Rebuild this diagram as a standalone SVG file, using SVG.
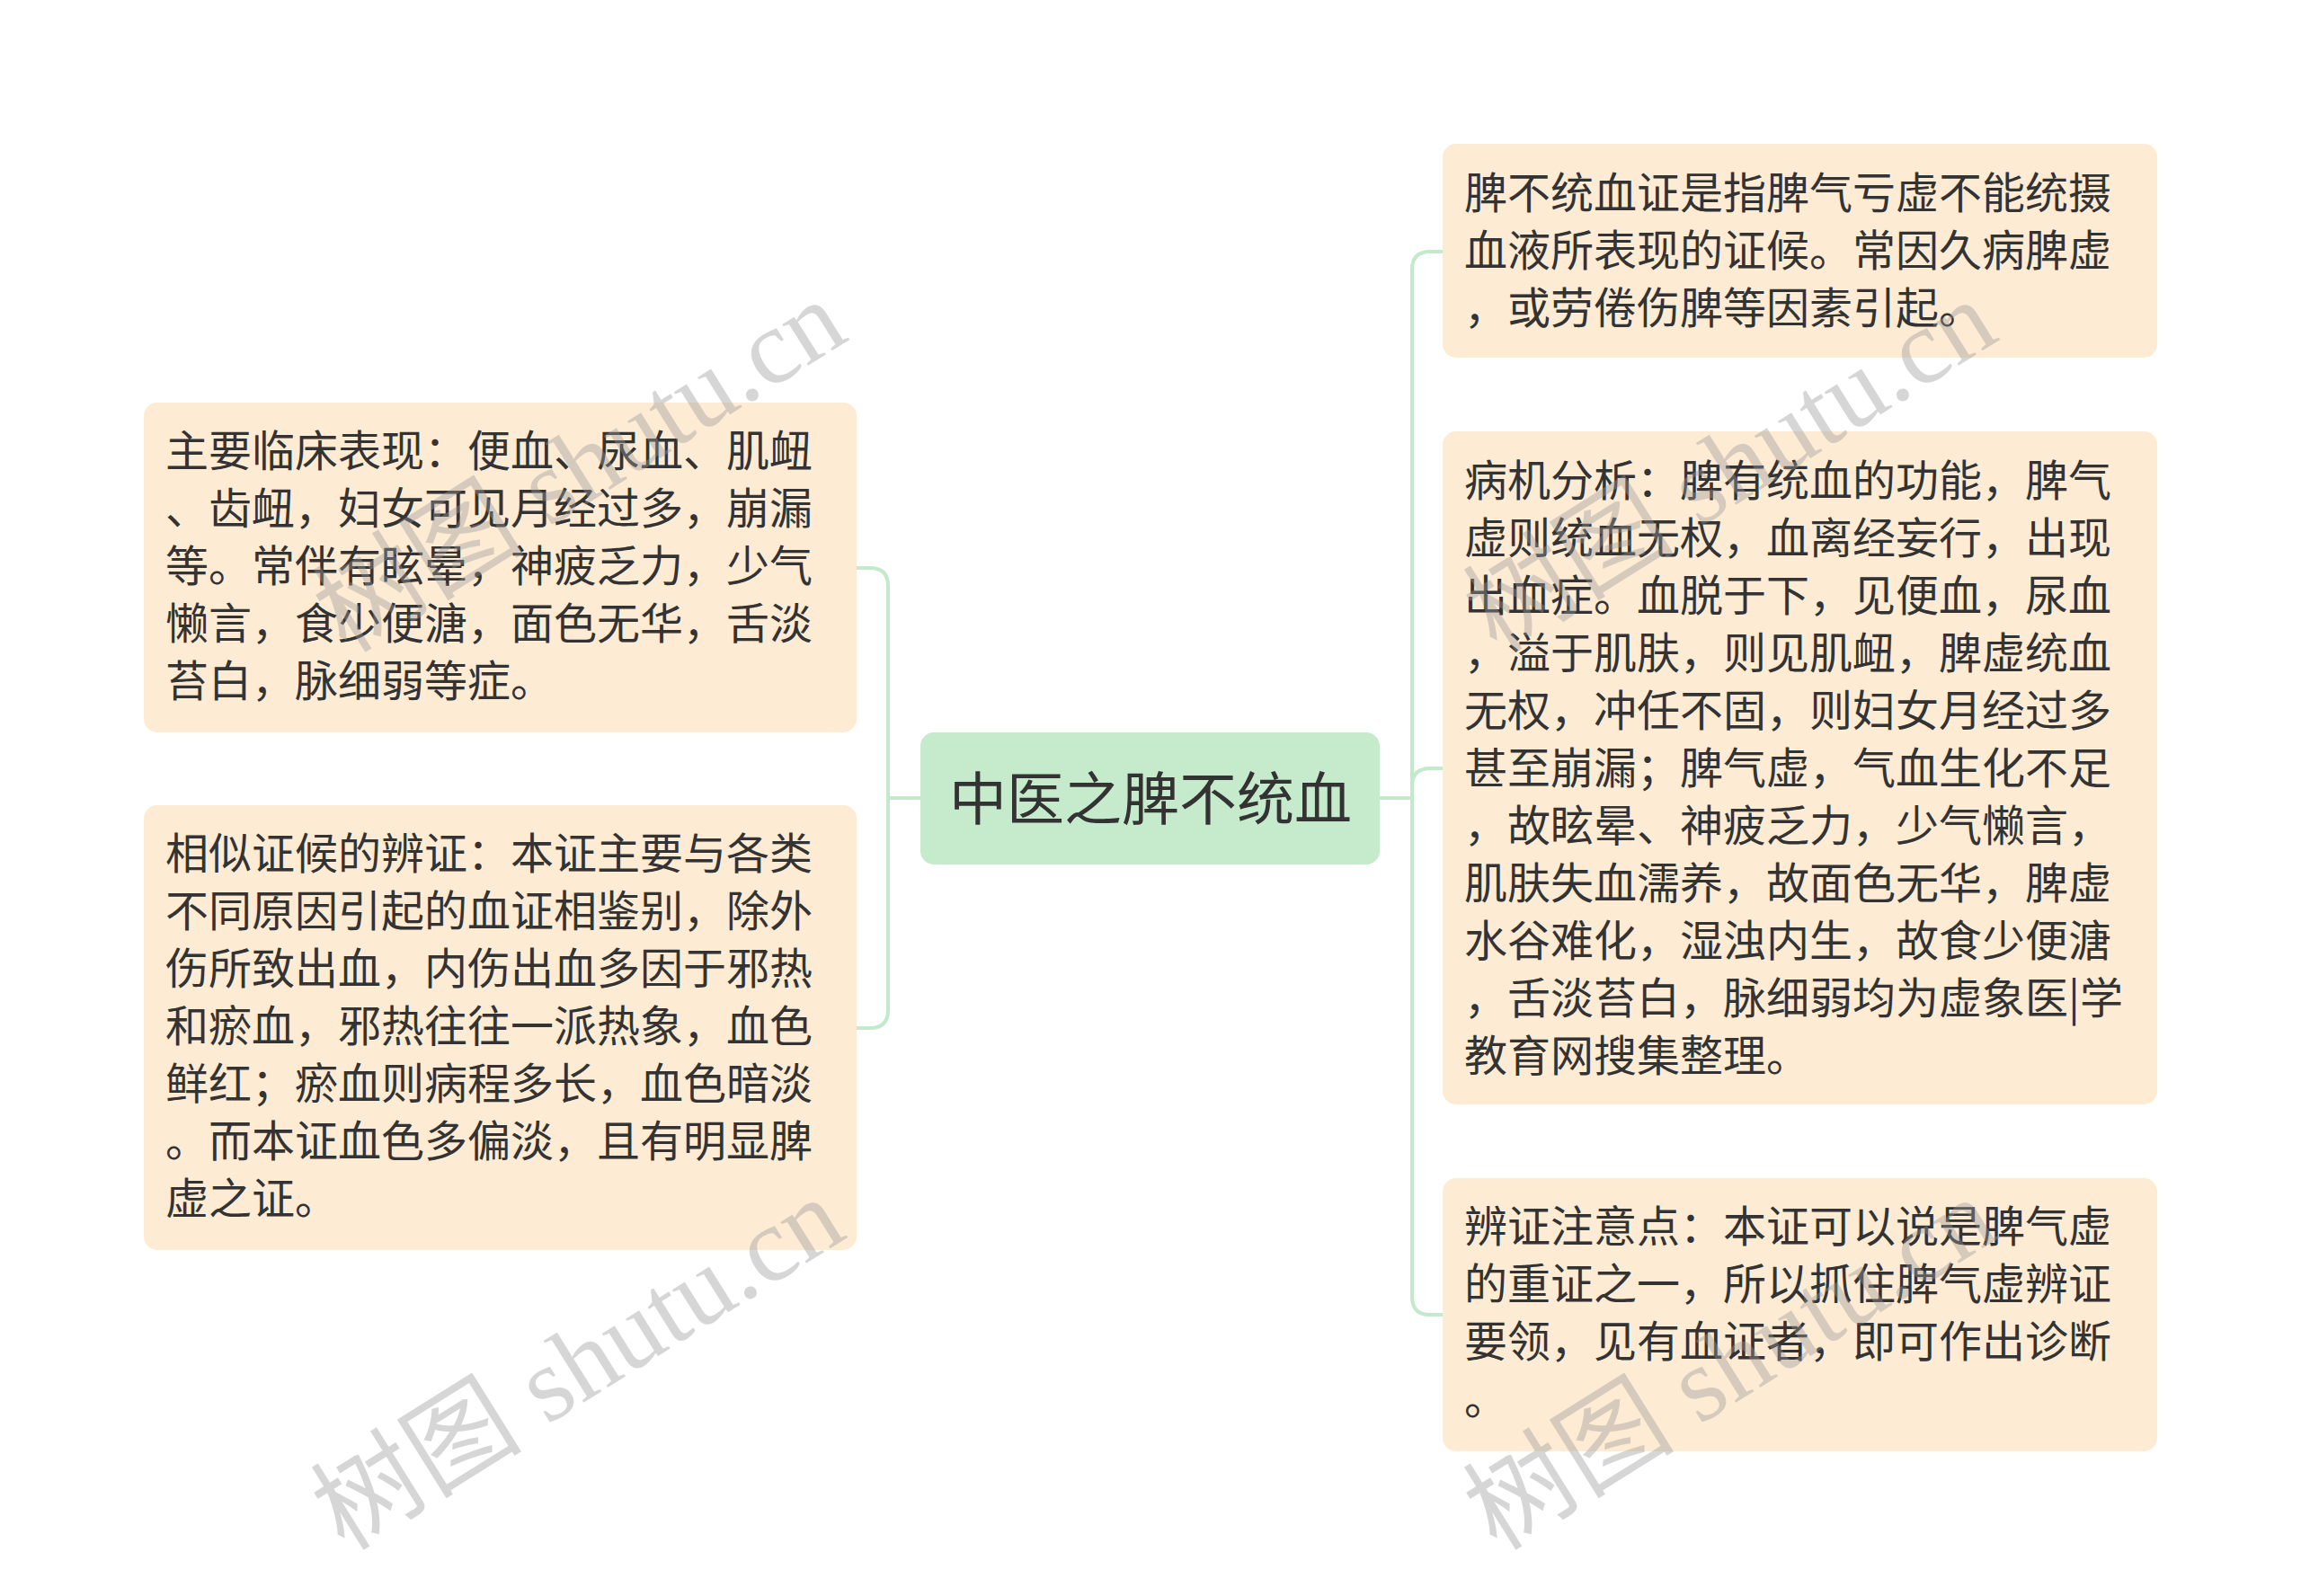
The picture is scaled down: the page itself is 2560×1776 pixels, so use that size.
<svg xmlns="http://www.w3.org/2000/svg" width="2560" height="1776" viewBox="0 0 2560 1776">
<style>
.bg{fill:#ffffff}
.leaf{fill:#fdebd4}
.root{fill:#c6ebcc}
.t{font-family:"Noto Sans CJK SC","Noto Sans",sans-serif;font-size:48px;fill:#333333}
.rt{font-family:"Noto Sans CJK SC","Noto Sans",sans-serif;font-size:64px;fill:#333333}
.link{fill:none;stroke:#c4eacb;stroke-width:4;stroke-linecap:round}
.wm{font-family:"Liberation Serif","Noto Sans CJK SC",serif;font-size:118px;fill:#999999;fill-opacity:0.4}
</style>
<rect class="bg" x="0" y="0" width="2560" height="1776"/>
<g id="connectors">
<path class="link" d="M1024,888 H988 V652 Q988,632 968,632 H954"/>
<path class="link" d="M1024,888 H988 V1124 Q988,1144 968,1144 H954"/>
<path class="link" d="M1535,888 H1571 V300 Q1571,280 1591,280 H1605"/>
<path class="link" d="M1535,888 H1571 V875 Q1571,855 1591,855 H1605"/>
<path class="link" d="M1535,888 H1571 V1443 Q1571,1463 1591,1463 H1605"/>
</g>
<g id="root">
<rect class="root" x="1024" y="815" width="511" height="147" rx="15"/>
<text class="rt" x="1280" y="912" text-anchor="middle">中医之脾不统血</text>
</g>
<g id="node-left-1">
<rect class="leaf" x="160" y="448" width="793" height="367" rx="15"/>
<text class="t" x="184" y="519">
<tspan x="184" y="519">主要临床表现：便血、尿血、肌衄</tspan>
<tspan x="184" y="583">、齿衄，妇女可见月经过多，崩漏</tspan>
<tspan x="184" y="647">等。常伴有眩晕，神疲乏力，少气</tspan>
<tspan x="184" y="711">懒言，食少便溏，面色无华，舌淡</tspan>
<tspan x="184" y="775">苔白，脉细弱等症。</tspan>
</text>
</g>
<g id="node-left-2">
<rect class="leaf" x="160" y="896" width="793" height="495" rx="15"/>
<text class="t" x="184" y="967">
<tspan x="184" y="967">相似证候的辨证：本证主要与各类</tspan>
<tspan x="184" y="1031">不同原因引起的血证相鉴别，除外</tspan>
<tspan x="184" y="1095">伤所致出血，内伤出血多因于邪热</tspan>
<tspan x="184" y="1159">和瘀血，邪热往往一派热象，血色</tspan>
<tspan x="184" y="1223">鲜红；瘀血则病程多长，血色暗淡</tspan>
<tspan x="184" y="1287">。而本证血色多偏淡，且有明显脾</tspan>
<tspan x="184" y="1351">虚之证。</tspan>
</text>
</g>
<g id="node-right-1">
<rect class="leaf" x="1605" y="160" width="795" height="238" rx="15"/>
<text class="t" x="1629" y="232">
<tspan x="1629" y="232">脾不统血证是指脾气亏虚不能统摄</tspan>
<tspan x="1629" y="296">血液所表现的证候。常因久病脾虚</tspan>
<tspan x="1629" y="360">，或劳倦伤脾等因素引起。</tspan>
</text>
</g>
<g id="node-right-2">
<rect class="leaf" x="1605" y="480" width="795" height="749" rx="15"/>
<text class="t" x="1629" y="552">
<tspan x="1629" y="552">病机分析：脾有统血的功能，脾气</tspan>
<tspan x="1629" y="616">虚则统血无权，血离经妄行，出现</tspan>
<tspan x="1629" y="680">出血症。血脱于下，见便血，尿血</tspan>
<tspan x="1629" y="744">，溢于肌肤，则见肌衄，脾虚统血</tspan>
<tspan x="1629" y="808">无权，冲任不固，则妇女月经过多</tspan>
<tspan x="1629" y="872">甚至崩漏；脾气虚，气血生化不足</tspan>
<tspan x="1629" y="936">，故眩晕、神疲乏力，少气懒言，</tspan>
<tspan x="1629" y="1000">肌肤失血濡养，故面色无华，脾虚</tspan>
<tspan x="1629" y="1064">水谷难化，湿浊内生，故食少便溏</tspan>
<tspan x="1629" y="1128">，舌淡苔白，脉细弱均为虚象医|学</tspan>
<tspan x="1629" y="1192">教育网搜集整理。</tspan>
</text>
</g>
<g id="node-right-3">
<rect class="leaf" x="1605" y="1311" width="795" height="304" rx="15"/>
<text class="t" x="1629" y="1382">
<tspan x="1629" y="1382">辨证注意点：本证可以说是脾气虚</tspan>
<tspan x="1629" y="1446">的重证之一，所以抓住脾气虚辨证</tspan>
<tspan x="1629" y="1510">要领，见有血证者，即可作出诊断</tspan>
<tspan x="1629" y="1574">。</tspan>
</text>
</g>
<g id="watermarks">
<text class="wm" x="645" y="519" text-anchor="middle" dominant-baseline="central" transform="rotate(-32 645 519)">树图 shutu.cn</text>
<text class="wm" x="643" y="1518" text-anchor="middle" dominant-baseline="central" transform="rotate(-32 643 1518)">树图 shutu.cn</text>
<text class="wm" x="1925" y="519" text-anchor="middle" dominant-baseline="central" transform="rotate(-32 1925 519)">树图 shutu.cn</text>
<text class="wm" x="1925" y="1518" text-anchor="middle" dominant-baseline="central" transform="rotate(-32 1925 1518)">树图 shutu.cn</text>
</g>
</svg>
